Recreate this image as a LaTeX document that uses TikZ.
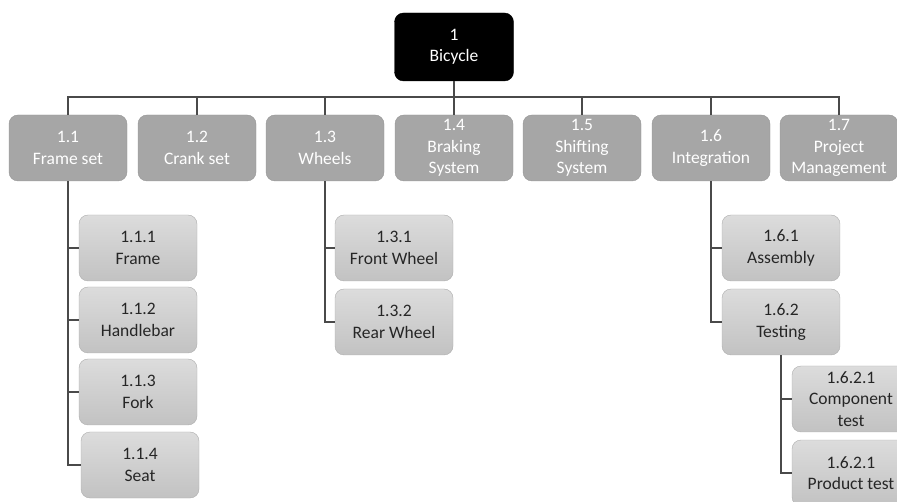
\documentclass[tikz,border=0pt]{standalone}
\usepackage{fontspec}
\setmainfont{Carlito}
\definecolor{taskfill}{HTML}{A6A6A6}
\definecolor{taskline}{HTML}{959595}
\definecolor{worktop}{HTML}{DCDCDC}
\definecolor{workbot}{HTML}{C2C2C2}
\definecolor{workline}{HTML}{ADADAD}
\definecolor{worktext}{HTML}{262626}
\definecolor{linkcol}{HTML}{4A4A4A}
\tikzset{every node/.style={rectangle,rounded corners=9pt,minimum width=118pt,minimum height=66pt,inner sep=1pt,align=center,font=\fontsize{17.5}{21.5}\selectfont}}
\tikzset{rootbox/.style={fill=black,draw=black,text=white,minimum width=119pt,minimum height=68pt}}
\tikzset{taskbox/.style={fill=taskfill,draw=taskline,text=white}}
\tikzset{workbox/.style={top color=worktop,bottom color=workbot,draw=workline,text=worktext}}
\tikzset{link/.style={draw=linkcol,line width=1.3pt}}

\begin{document}
\begin{tikzpicture}[x=1pt,y=-1pt]
      \useasboundingbox (0,0) rectangle (897,502);
      \clip (0,0) rectangle (897,502);
      \node[rootbox] (n1) at (454,47) {1\\Bicycle};
      \coordinate (bus) at (454,97);
      \node[taskbox] (n11) at (68,148) {1.1\\Frame set};
      \node[taskbox] (n12) at (197,148) {1.2\\Crank set};
      \node[taskbox] (n13) at (325,148) {1.3\\Wheels};
      \node[taskbox] (n14) at (454,148) {1.4\\Braking\\System};
      \node[taskbox] (n15) at (582,148) {1.5\\Shifting\\System};
      \node[taskbox] (n16) at (711,148) {1.6\\Integration};
      \node[taskbox] (n17) at (839,148) {1.7\\Project\\Management};
      \node[workbox] (n111) at (138,248) {1.1.1\\Frame};
      \node[workbox] (n112) at (138,320) {1.1.2\\Handlebar};
      \node[workbox] (n113) at (138,392) {1.1.3\\Fork};
      \node[workbox] (n114) at (140,465) {1.1.4\\Seat};
      \node[workbox] (n131) at (394,248) {1.3.1\\Front Wheel};
      \node[workbox] (n132) at (394,322) {1.3.2\\Rear Wheel};
      \node[workbox] (n161) at (781,248) {1.6.1\\Assembly};
      \node[workbox] (n162) at (781,322) {1.6.2\\Testing};
      \node[workbox] (n1621) at (851,399) {1.6.2.1\\Component\\test};
      \node[workbox] (n1622) at (851,473) {1.6.2.1\\Product test};
      \draw[link] (n1) -- (bus);
      \draw[link] (bus) -| (n11);
      \draw[link] (bus) -| (n12);
      \draw[link] (bus) -| (n13);
      \draw[link] (bus) -- (n14);
      \draw[link] (bus) -| (n15);
      \draw[link] (bus) -| (n16);
      \draw[link] (bus) -| (n17);
      \draw[link] (n11) |- (n111);
      \draw[link] (n11) |- (n112);
      \draw[link] (n11) |- (n113);
      \draw[link] (n11) |- (n114);
      \draw[link] (n13) |- (n131);
      \draw[link] (n13) |- (n132);
      \draw[link] (n16) |- (n161);
      \draw[link] (n16) |- (n162);
      \draw[link] (n162) |- (n1621);
      \draw[link] (n162) |- (n1622);
    \end{tikzpicture}
\end{document}
